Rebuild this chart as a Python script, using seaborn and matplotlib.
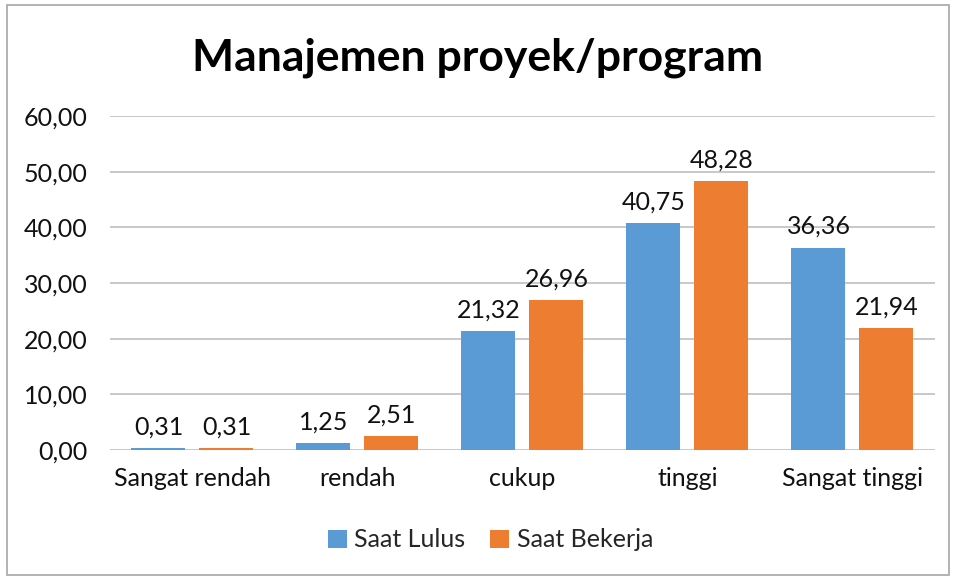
import matplotlib
matplotlib.use("Agg")
import matplotlib.pyplot as plt
import seaborn as sns
import pandas as pd
from matplotlib.patches import Rectangle

categories = ["Sangat rendah", "rendah", "cukup", "tinggi", "Sangat tinggi"]
saat_lulus = [0.31, 1.25, 21.32, 40.75, 36.36]
saat_bekerja = [0.31, 2.51, 26.96, 48.28, 21.94]
series_names = ["Saat Lulus", "Saat Bekerja"]
y_ticks = [0, 10, 20, 30, 40, 50, 60]
title = "Manajemen proyek/program"

colors = ["#5B9BD5", "#ED7D31"]

df = pd.DataFrame({
    "kategori": categories * 2,
    "nilai": saat_lulus + saat_bekerja,
    "seri": [series_names[0]] * len(categories) + [series_names[1]] * len(categories),
})

sns.set_theme(style="white")
plt.rcParams["font.family"] = ["Lato", "DejaVu Sans"]

FS = 18

fig = plt.figure(figsize=(9.56, 5.8), dpi=100)
ax = fig.add_axes([0.115, 0.224, 0.863, 0.576])

sns.barplot(data=df, x="kategori", y="nilai", hue="seri", order=categories,
            hue_order=series_names, palette=colors, width=0.824, gap=0.206,
            saturation=1, linewidth=0, ax=ax, legend=True)

def fmt(v):
    return f"{v:.2f}".replace(".", ",")

for cont in ax.containers:
    labels = [fmt(b.get_height()) for b in cont]
    ax.bar_label(cont, labels=labels, padding=7, fontsize=FS, color="#111111")

ax.set_ylim(0, 60)
ax.set_yticks(y_ticks)
ax.set_yticklabels([fmt(t) for t in y_ticks], fontsize=FS, color="#111111")
ax.tick_params(axis="x", labelsize=FS, labelcolor="#111111", pad=12, length=0)
ax.tick_params(axis="y", length=0, pad=16)
ax.set_xlabel("")
ax.set_ylabel("")
ax.set_xlim(-0.5, len(categories) - 0.5)
ax.grid(axis="y", color="#BFBFBF", linewidth=1.2)
ax.set_axisbelow(True)
for s in ax.spines.values():
    s.set_visible(False)

handles, labels = ax.get_legend_handles_labels()
ax.legend(handles, labels, loc="center", bbox_to_anchor=(0.513, 0.069),
          bbox_transform=fig.transFigure, ncol=2, frameon=False,
          fontsize=FS, handlelength=0.75, handleheight=0.75,
          handletextpad=0.3, columnspacing=1.0)

fig.text(0.5, 0.9, title, ha="center", va="center", fontsize=32,
         fontweight="bold", color="#000000")

fig.patches.append(Rectangle((0.007, 0.008), 0.986, 0.984, transform=fig.transFigure,
                             fill=False, edgecolor="#A6A6A6", linewidth=1.2))

fig.savefig("out.png", dpi=100, facecolor="white")
